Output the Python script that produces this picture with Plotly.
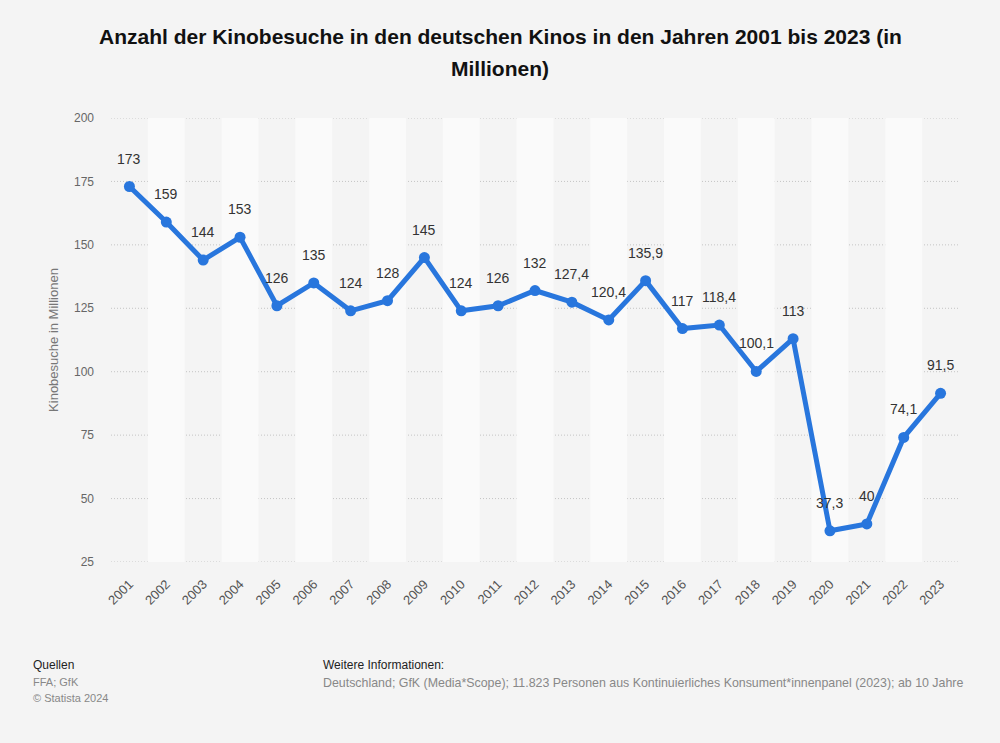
import plotly.graph_objects as go

years = [str(y) for y in range(2001, 2024)]
visits = [173, 159, 144, 153, 126, 135, 124, 128, 145, 124, 126, 132, 127.4, 120.4,
          135.9, 117, 118.4, 100.1, 113, 37.3, 40, 74.1, 91.5]
labels = ["173", "159", "144", "153", "126", "135", "124", "128", "145", "124", "126", "132",
          "127,4", "120,4", "135,9", "117", "118,4", "100,1", "113", "37,3", "40", "74,1", "91,5"]
y_ticks = [25, 50, 75, 100, 125, 150, 175, 200]

W, H = 1000, 743
L, R, T, B = 110.5, 40.5, 118, 181
PW, PH = W - L - R, H - T - B

def px(x):
    return (x - L) / PW

def py(y):
    return (H - B - y) / PH

FONT = "Liberation Sans, Arial, sans-serif"
BLUE = "#2876dd"

fig = go.Figure()
fig.add_trace(go.Scatter(
    x=years, y=visits, mode="lines+markers",
    line=dict(color=BLUE, width=5),
    marker=dict(color=BLUE, size=11),
    hoverinfo="skip", showlegend=False,
))

shapes = []
for i in range(len(years)):
    if i % 2 == 1:
        shapes.append(dict(type="rect", xref="x", yref="y", x0=i - 0.5, x1=i + 0.5,
                           y0=y_ticks[0], y1=y_ticks[-1], fillcolor="#fafafa",
                           line=dict(width=0), layer="below"))
for t in y_ticks:
    shapes.append(dict(type="line", xref="paper", yref="y", x0=0, x1=1, y0=t, y1=t,
                       line=dict(color="#c4c4c4", width=1, dash="1px,2px"), layer="below"))

annotations = []
for i, (v, lab) in enumerate(zip(visits, labels)):
    annotations.append(dict(x=i, y=v, xref="x", yref="y", text=lab, showarrow=False,
                            yshift=28, font=dict(family=FONT, size=14, color="#333333")))

title_lines = [("Anzahl der Kinobesuche in den deutschen Kinos in den Jahren 2001 bis 2023 (in", 37),
               ("Millionen)", 68)]
for txt, y in title_lines:
    annotations.append(dict(x=px(500), y=py(y), xref="paper", yref="paper", text="<b>" + txt + "</b>",
                            showarrow=False, xanchor="center", yanchor="middle",
                            font=dict(family=FONT, size=21, color="#111111")))

foot = [
    ("Quellen", 30, 665, "#222222", 12),
    ("FFA; GfK", 30, 682, "#888888", 11),
    ("© Statista 2024", 30, 698, "#888888", 11),
    ("Weitere Informationen:", 321, 665, "#222222", 12),
    ("Deutschland; GfK (Media*Scope); 11.823 Personen aus Kontinuierliches Konsument*innenpanel (2023); ab 10 Jahre",
     321, 683, "#888888", 12.4),
]
for txt, x, y, c, s in foot:
    annotations.append(dict(x=px(x), y=py(y), xref="paper", yref="paper", text=txt,
                            showarrow=False, xanchor="left", yanchor="middle",
                            font=dict(family=FONT, size=s, color=c)))

fig.update_layout(
    width=W, height=H,
    margin=dict(l=L, r=R, t=T, b=B),
    paper_bgcolor="#f4f4f4", plot_bgcolor="#f4f4f4",
    xaxis=dict(type="category", showgrid=False, zeroline=False, tickangle=-45,
               tickfont=dict(family=FONT, size=13, color="#555555"),
               ticklabelstandoff=11, range=[-0.5, len(years) - 0.5]),
    yaxis=dict(range=[25, 200], tickvals=y_ticks, showgrid=False, zeroline=False,
               tickfont=dict(family=FONT, size=12, color="#666666"),
               ticklabelstandoff=16,
               title=dict(text="Kinobesuche in Millionen", standoff=12,
                          font=dict(family=FONT, size=13, color="#777777"))),
    shapes=shapes,
    annotations=annotations,
)

fig.write_html("out.html", config={"displayModeBar": False},
               post_script="document.body.style.margin='0px';")
